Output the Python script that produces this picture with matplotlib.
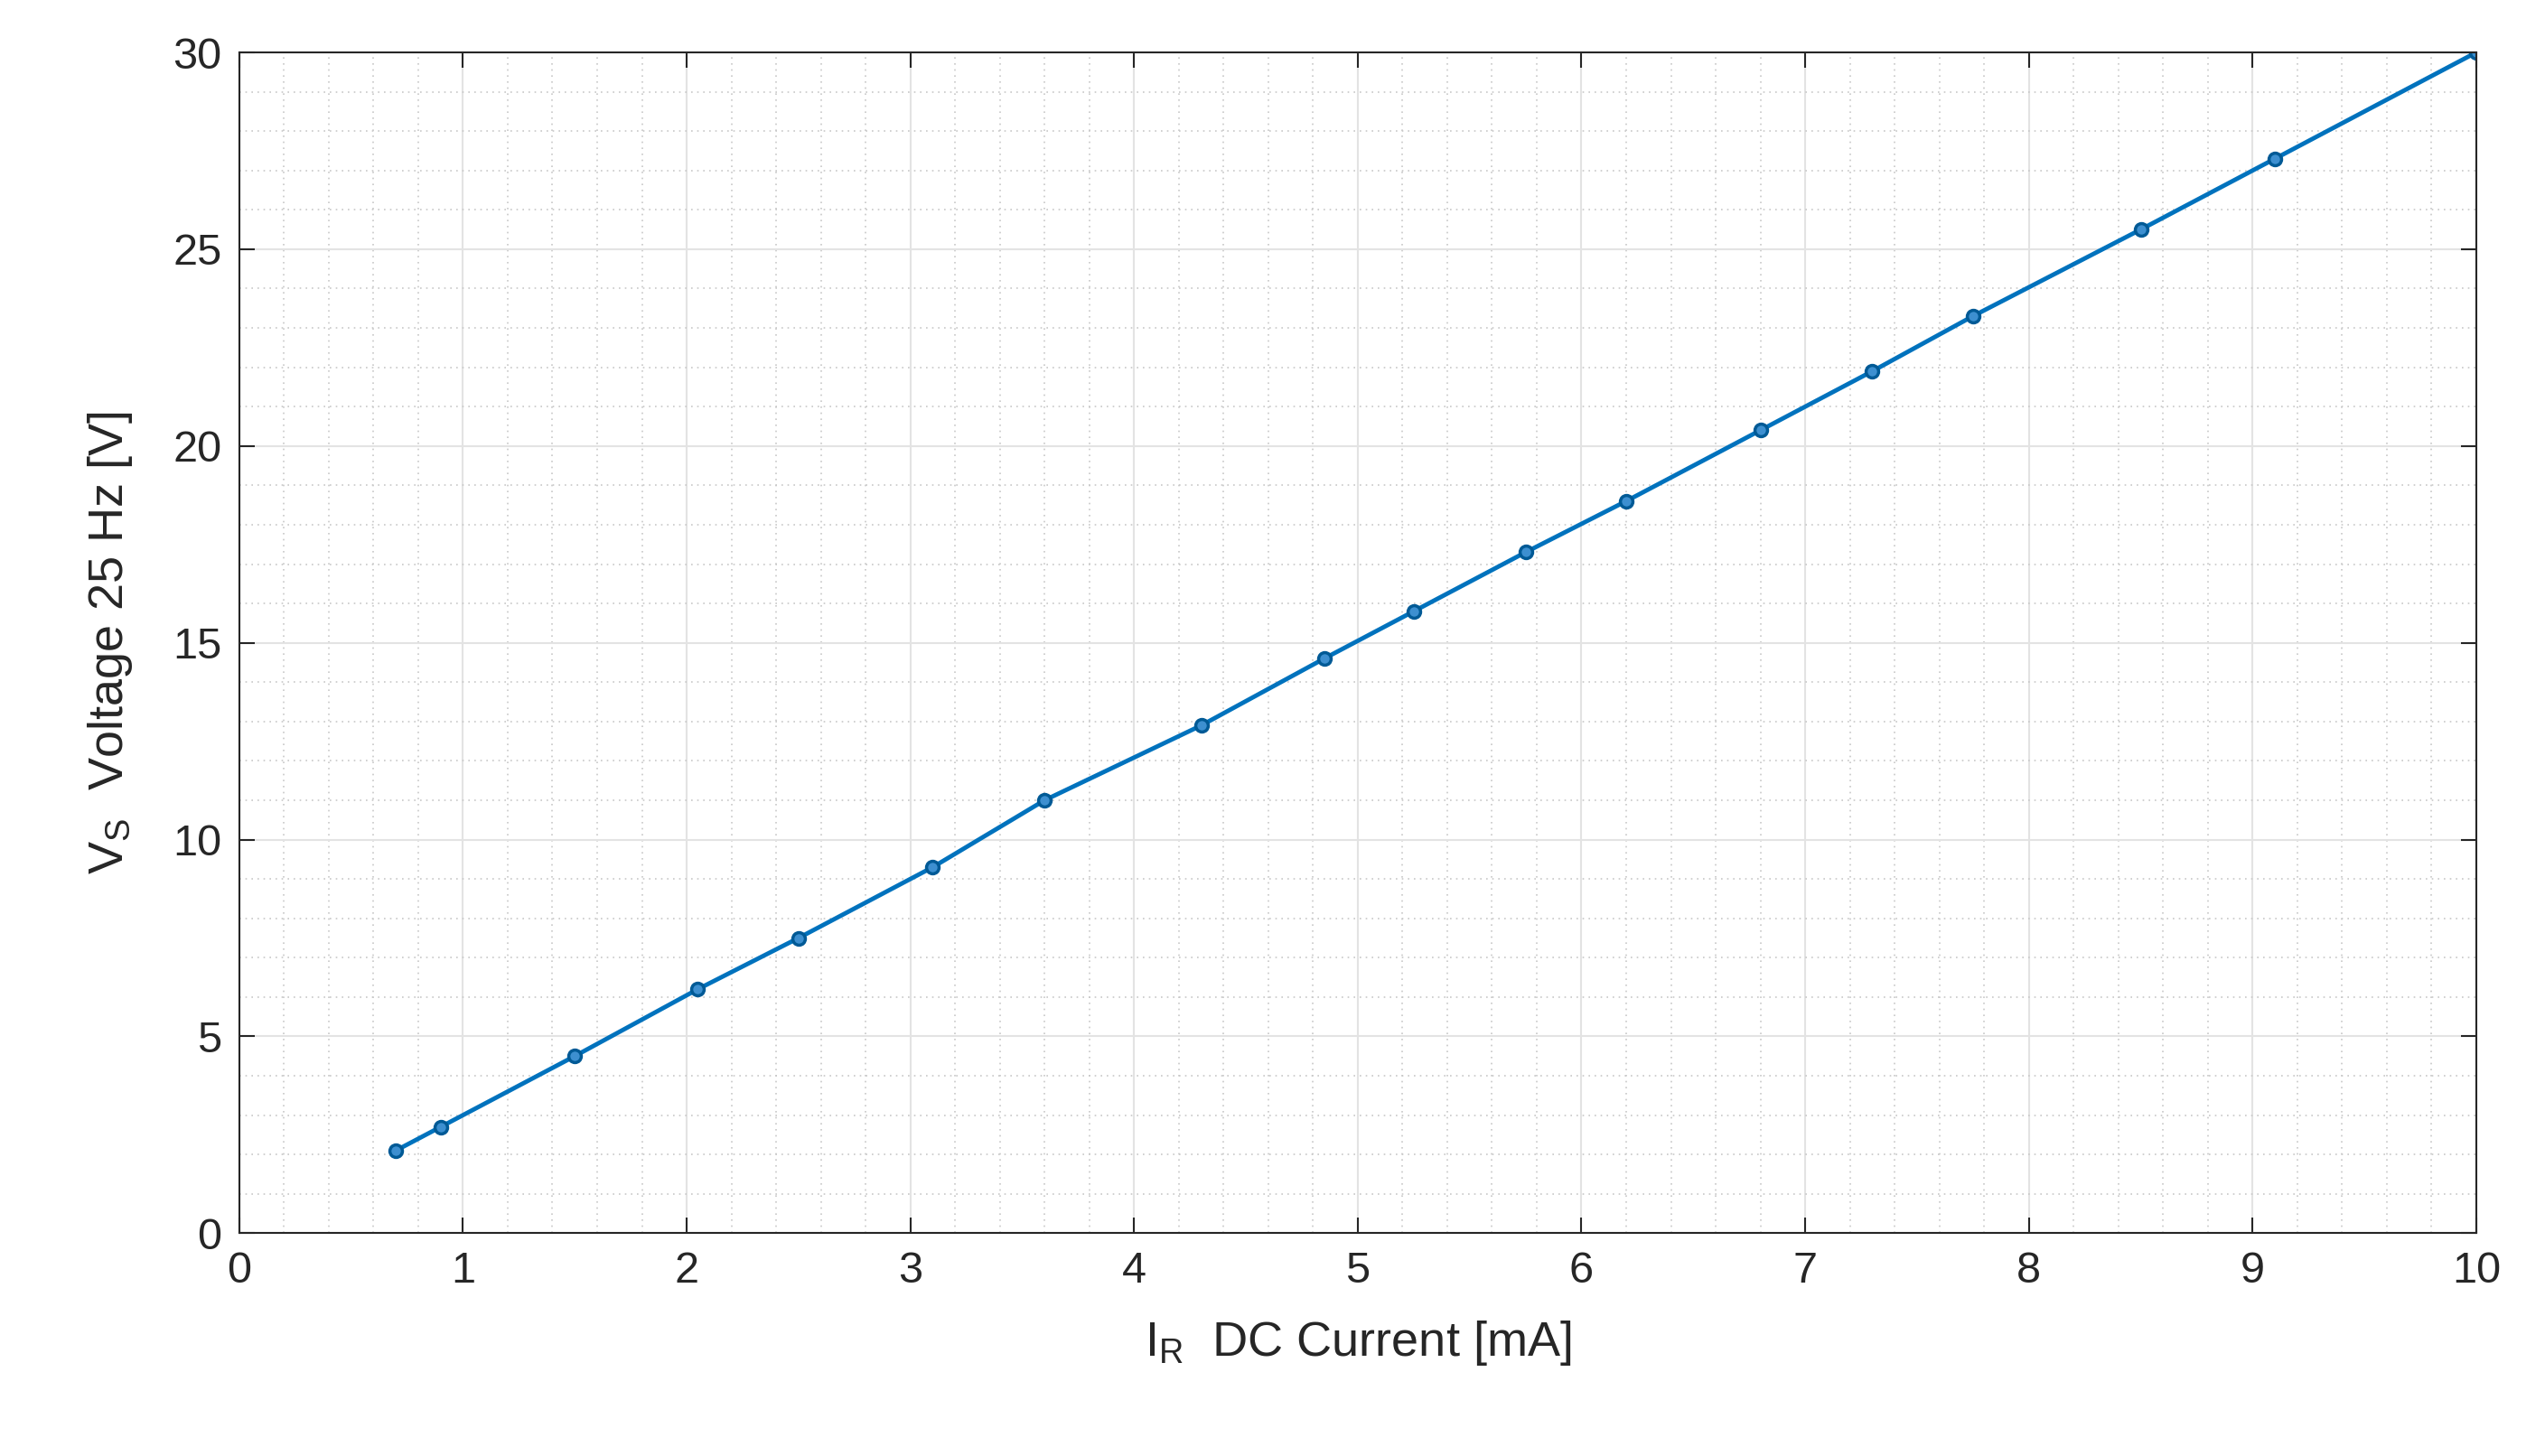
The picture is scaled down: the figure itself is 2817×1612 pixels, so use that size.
import matplotlib
matplotlib.use("Agg")
import matplotlib.pyplot as plt
from matplotlib.ticker import MultipleLocator

current_mA = [0.7, 0.9, 1.5, 2.05, 2.5, 3.1, 3.6, 4.3, 4.85, 5.25, 5.75, 6.2, 6.8, 7.3, 7.75, 8.5, 9.1, 10.0]
voltage_V = [2.1, 2.7, 4.5, 6.2, 7.5, 9.3, 11.0, 12.9, 14.6, 15.8, 17.3, 18.6, 20.4, 21.9, 23.3, 25.5, 27.3, 30.0]

plt.rcParams['font.family'] = ['Liberation Sans', 'DejaVu Sans']
plt.rcParams['mathtext.fontset'] = 'custom'
plt.rcParams['mathtext.rm'] = 'Liberation Sans'
fig = plt.figure(figsize=(28.17, 16.12), dpi=100)
ax = fig.add_axes([0.094, 0.153, 0.879, 0.811])
ax.plot(current_mA, voltage_V, color='#0072BD', lw=3.5, marker='o', ms=10,
        mfc='#3d8fd0', mec='#005a96', mew=2.5)
ax.set_xlim(0, 10)
ax.set_ylim(0, 30)
ax.xaxis.set_major_locator(MultipleLocator(1))
ax.xaxis.set_minor_locator(MultipleLocator(0.2))
ax.yaxis.set_major_locator(MultipleLocator(5))
ax.yaxis.set_minor_locator(MultipleLocator(1))
ax.grid(which='major', color='#e3e3e3', lw=1.5)
ax.grid(which='minor', color='#c8c8c8', lw=1.2, ls=(0, (1, 3)))
ax.set_axisbelow(True)
ax.tick_params(which='both', direction='in', top=True, right=True, labelsize=35, pad=14, colors='#262626')
ax.tick_params(which='major', length=12, width=1.5)
ax.tick_params(which='minor', length=0)
for s in ax.spines.values():
    s.set_linewidth(1.5)
    s.set_color('#262626')
ax.set_xlabel(r'I$_\mathregular{R}$  DC Current [mA]', fontsize=39, labelpad=22, color='#262626')
ax.set_ylabel(r'V$_\mathregular{S}$  Voltage 25 Hz [V]', fontsize=39, labelpad=30, color='#262626')
fig.savefig('out.png', dpi=100)
